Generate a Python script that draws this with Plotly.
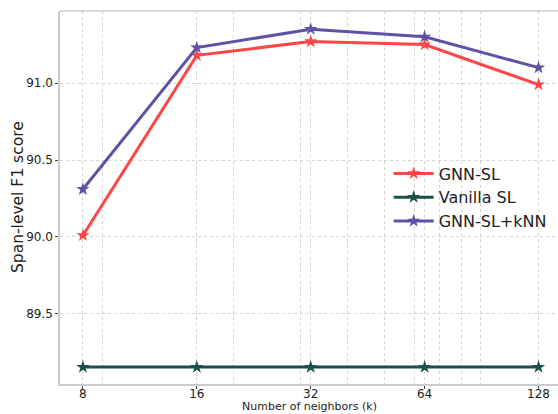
import plotly.graph_objects as go
import math

k_values = [8, 16, 32, 64, 128]
tick_labels = ["8", "16", "32", "64", "128"]
gnn_sl = [90.01, 91.18, 91.27, 91.25, 90.99]
vanilla_sl = [89.155, 89.155, 89.155, 89.155, 89.155]
gnn_sl_knn = [90.31, 91.23, 91.35, 91.30, 91.10]
minor_grid = [9, 20, 30, 40, 50, 60, 70, 80, 90]
y_ticks = [89.5, 90.0, 90.5, 91.0]

series = [
    ("GNN-SL", gnn_sl, "#ff4545"),
    ("Vanilla SL", vanilla_sl, "#1b4f47"),
    ("GNN-SL+kNN", gnn_sl_knn, "#5e52a6"),
]

fig = go.Figure()
for name, vals, color in series:
    fig.add_trace(go.Scatter(
        x=k_values, y=vals, name=name, mode="lines+markers",
        line=dict(color=color, width=3),
        marker=dict(symbol="star", size=10, color=color),
        cliponaxis=False,
    ))

fig.update_layout(
    width=558, height=414,
    margin=dict(l=60, r=0, t=11, b=30),
    paper_bgcolor="white", plot_bgcolor="white",
    font=dict(family="DejaVu Sans", size=12, color="#222222"),
    showlegend=True,
    legend=dict(x=0.66, y=0.50, xanchor="left", yanchor="middle",
                font=dict(size=16, color="#222222"), bgcolor="rgba(0,0,0,0)",
                tracegroupgap=0, itemwidth=40),
)
fig.update_xaxes(
    type="log", automargin=False,
    range=[math.log10(6.96), math.log10(144.1)],
    tickmode="array", tickvals=k_values, ticktext=tick_labels,
    ticks="outside", ticklen=3, tickcolor="#444444", ticklabelstandoff=-5,
    tickfont=dict(size=12),
    showgrid=True, gridcolor="#d3d3d3", griddash="dot", gridwidth=1,
    minor=dict(tickmode="array", tickvals=minor_grid, showgrid=True,
               gridcolor="#d3d3d3", griddash="dot", gridwidth=1, ticks=""),
    showline=True, linecolor="#cccccc", linewidth=1.5, mirror=False,
    zeroline=False,
)
fig.update_yaxes(
    automargin=False,
    range=[89.045, 91.468],
    tickmode="array", tickvals=y_ticks, ticktext=[f"{v:.1f}" for v in y_ticks],
    ticks="outside", ticklen=3, tickcolor="#444444",
    showgrid=True, gridcolor="#d3d3d3", griddash="dot", gridwidth=1,
    showline=True, linecolor="#cccccc", linewidth=1.5,
    zeroline=False,
)
# axis titles as annotations
fig.add_annotation(text="Number of neighbors (k)", xref="paper", yref="paper",
                   x=0.5, y=-0.0804, xanchor="center", yanchor="bottom",
                   showarrow=False, borderpad=0,
                   font=dict(size=11, color="#222222"))
fig.add_annotation(text="Span-level F1 score", xref="paper", yref="paper",
                   x=-0.0853, y=0.5, xanchor="center", yanchor="middle",
                   textangle=-90, showarrow=False,
                   font=dict(size=15.5, color="#222222"))
# top spine
fig.add_shape(type="line", xref="paper", yref="paper", x0=0, x1=1, y0=1, y1=1,
              line=dict(color="#cccccc", width=1.5))

fig.write_html("out.html", config={"displayModeBar": False},
               post_script="document.body.style.margin='0';document.body.style.overflow='hidden';")
